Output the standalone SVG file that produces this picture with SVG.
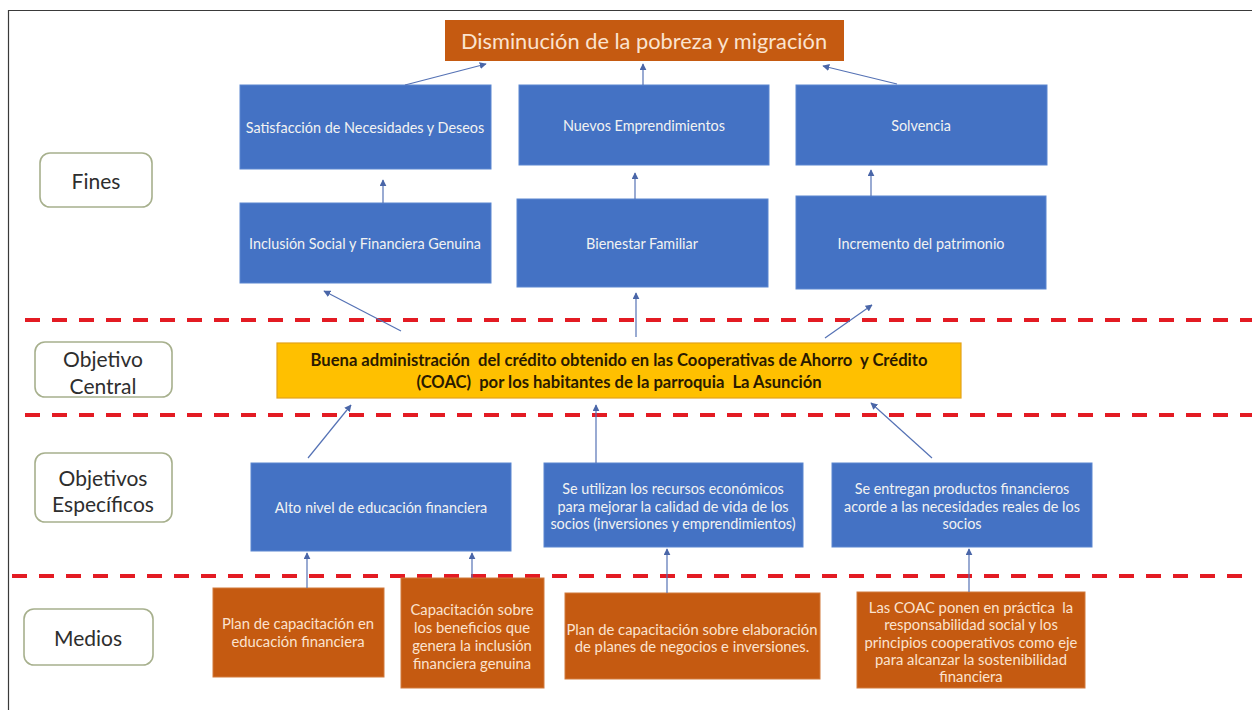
<svg xmlns="http://www.w3.org/2000/svg" width="1252" height="710" viewBox="0 0 1252 710">
<defs>
<style>
.bg{fill:#ffffff}
.frame{stroke:#3a3a3a;stroke-width:1.2;fill:none}
.blue{fill:#4472C4;stroke:#5A86D0;stroke-width:1}
.orange{fill:#C55A11;stroke:#D27A3C;stroke-width:1}
.yellow{fill:#FFC000;stroke:#E3A21A;stroke-width:1.2}
.label{fill:#ffffff;stroke:#A7B08D;stroke-width:1.6}
.tw{font-family:Lato,"Liberation Sans",sans-serif;font-size:14.4px;fill:#F2F2F2;text-anchor:middle;dominant-baseline:central}
.to{font-family:Lato,"Liberation Sans",sans-serif;font-size:14.8px;fill:#FBE3CF;text-anchor:middle;dominant-baseline:central}
.tl{font-family:Lato,"Liberation Sans",sans-serif;font-size:21px;fill:#2E2E2E;text-anchor:middle;dominant-baseline:central}
.tc{font-family:Lato,"Liberation Sans",sans-serif;font-size:16.6px;font-weight:bold;fill:#2A1A00;text-anchor:middle;dominant-baseline:central}
.tt{font-family:Lato,"Liberation Sans",sans-serif;font-size:21.8px;fill:#FBE3CF;text-anchor:middle;dominant-baseline:central}
.dash{stroke:#E31B23;stroke-width:4;stroke-dasharray:15 12;fill:none}
.conn{stroke:#5572B5;stroke-width:1.2;fill:none;marker-end:url(#ah)}
</style>
<marker id="ah" viewBox="0 0 10 10" refX="9" refY="5" markerWidth="7" markerHeight="7" markerUnits="userSpaceOnUse" orient="auto">
<path d="M0,0 L10,5 L0,10 z" fill="#4A66A8"/>
</marker>
</defs>
<rect class="bg" x="0" y="0" width="1252" height="710"/>
<path class="frame" d="M8.5,710 L8.5,10.5 L1252,10.5"/>

<g id="separators">
<line class="dash" x1="25" y1="320" x2="1252" y2="320"/>
<line class="dash" x1="25" y1="415" x2="1252" y2="415"/>
<line class="dash" x1="12" y1="576" x2="1252" y2="576"/>
</g>

<g id="label-fines"><rect class="label" x="40" y="153" width="112" height="54" rx="10"/><text class="tl" x="96" y="180">Fines</text></g>
<g id="label-objetivo-central"><rect class="label" x="35" y="342" width="137" height="55" rx="10"/><text class="tl" x="103" y="358">Objetivo</text><text class="tl" x="103" y="385">Central</text></g>
<g id="label-objetivos-especificos"><rect class="label" x="35" y="453" width="137" height="69" rx="10"/><text class="tl" x="103" y="477">Objetivos</text><text class="tl" x="103" y="503">Específicos</text></g>
<g id="label-medios"><rect class="label" x="24" y="609" width="129" height="56" rx="10"/><text class="tl" x="88" y="637">Medios</text></g>

<g id="fin-top"><rect x="445" y="20" width="399" height="41" fill="#C55A11"/><text class="tt" x="644" y="40">Disminución de la pobreza y migración</text></g>

<g id="fin-satisfaccion"><rect class="blue" x="240" y="85" width="251" height="84"/><text class="tw" x="365" y="127">Satisfacción de Necesidades y Deseos</text></g>
<g id="fin-emprendimientos"><rect class="blue" x="519" y="85" width="250" height="80"/><text class="tw" x="644" y="125">Nuevos Emprendimientos</text></g>
<g id="fin-solvencia"><rect class="blue" x="796" y="85" width="251" height="80"/><text class="tw" x="921" y="125">Solvencia</text></g>

<g id="fin-inclusion"><rect class="blue" x="240" y="203" width="251" height="80"/><text class="tw" x="365" y="243">Inclusión Social y Financiera Genuina</text></g>
<g id="fin-bienestar"><rect class="blue" x="517" y="199" width="251" height="88"/><text class="tw" x="642" y="243">Bienestar Familiar</text></g>
<g id="fin-patrimonio"><rect class="blue" x="796" y="196" width="250" height="93"/><text class="tw" x="921" y="243">Incremento del patrimonio</text></g>

<g id="objetivo-central"><rect class="yellow" x="277" y="343" width="684" height="55"/>
<text class="tc" x="619" y="360" xml:space="preserve">Buena administración  del crédito obtenido en las Cooperativas de Ahorro  y Crédito</text>
<text class="tc" x="619" y="382" xml:space="preserve">(COAC)  por los habitantes de la parroquia  La Asunción</text></g>

<g id="obj-educacion"><rect class="blue" x="251" y="463" width="260" height="88"/><text class="tw" x="381" y="507">Alto nivel de educación financiera</text></g>
<g id="obj-recursos"><rect class="blue" x="544" y="463" width="259" height="84"/>
<text class="tw" x="673" y="488">Se utilizan los recursos económicos</text>
<text class="tw" x="673" y="506">para mejorar la calidad de vida de los</text>
<text class="tw" x="673" y="523">socios (inversiones y emprendimientos)</text></g>
<g id="obj-productos"><rect class="blue" x="832" y="463" width="260" height="84"/>
<text class="tw" x="962" y="488">Se entregan productos financieros</text>
<text class="tw" x="962" y="506">acorde a las necesidades reales de los</text>
<text class="tw" x="962" y="523">socios</text></g>

<g id="medio-plan-educacion"><rect class="orange" x="213" y="588" width="171" height="89"/>
<text class="to" x="298" y="623">Plan de capacitación en</text>
<text class="to" x="298" y="641">educación financiera</text></g>
<g id="medio-capacitacion-beneficios"><rect class="orange" x="401" y="578" width="143" height="110"/>
<text class="to" x="472" y="609">Capacitación sobre</text>
<text class="to" x="472" y="627">los beneficios que</text>
<text class="to" x="472" y="645">genera la inclusión</text>
<text class="to" x="472" y="663">financiera genuina</text></g>
<g id="medio-plan-negocios"><rect class="orange" x="565" y="593" width="255" height="86"/>
<text class="to" x="692" y="629">Plan de capacitación sobre elaboración</text>
<text class="to" x="692" y="646">de planes de negocios e inversiones.</text></g>
<g id="medio-coac"><rect class="orange" x="857" y="592" width="228" height="96"/>
<text class="to" x="971" y="607" xml:space="preserve">Las COAC ponen en práctica  la</text>
<text class="to" x="971" y="624">responsabilidad social y los</text>
<text class="to" x="971" y="642">principios cooperativos como eje</text>
<text class="to" x="971" y="659">para alcanzar la sostenibilidad</text>
<text class="to" x="971" y="676">financiera</text></g>

<g id="connectors">
<line class="conn" x1="405" y1="85" x2="486" y2="64"/>
<line class="conn" x1="643" y1="85" x2="643" y2="64"/>
<line class="conn" x1="897" y1="84" x2="823" y2="66"/>
<line class="conn" x1="383" y1="203" x2="383" y2="180"/>
<line class="conn" x1="635" y1="199" x2="635" y2="173"/>
<line class="conn" x1="871" y1="196" x2="871" y2="170"/>
<line class="conn" x1="401" y1="331" x2="324" y2="291"/>
<line class="conn" x1="636" y1="337" x2="636" y2="293"/>
<line class="conn" x1="825" y1="338" x2="872" y2="305"/>
<line class="conn" x1="308" y1="458" x2="351" y2="405"/>
<line class="conn" x1="596" y1="463" x2="596" y2="405"/>
<line class="conn" x1="932" y1="458" x2="871" y2="403"/>
<line class="conn" x1="307" y1="588" x2="307" y2="553"/>
<line class="conn" x1="472" y1="578" x2="472" y2="553"/>
<line class="conn" x1="667" y1="593" x2="667" y2="549"/>
<line class="conn" x1="969" y1="592" x2="969" y2="549"/>
</g>
</svg>
